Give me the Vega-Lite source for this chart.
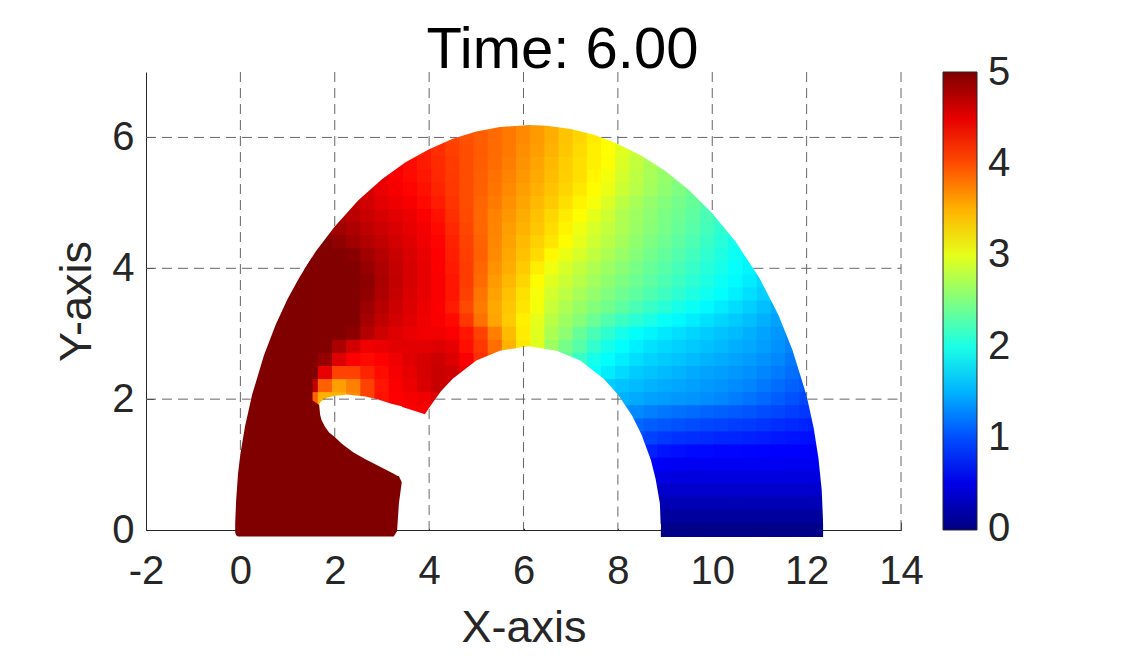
{"$schema":"https://vega.github.io/schema/vega-lite/v6.json","width":755,"height":458,"autosize":"none","padding":{"left":146,"top":72,"right":224,"bottom":126},"background":"white",
"title":{"text":"Time: 6.00","font":"Liberation Sans","fontSize":58,"fontWeight":"normal","color":"#000000","anchor":"middle","dx":39,"offset":-8},
"config":{"view":{"stroke":null},"axis":{"grid":false,"labelFont":"Liberation Sans","titleFont":"Liberation Sans","labelColor":"#262626","titleColor":"#262626","labelFontSize":40,"titleFontSize":45,"titleFontWeight":"normal","domainColor":"#262626","tickColor":"#262626","domainWidth":1,"tickWidth":1,"tickSize":-8,"labelFlush":false}},
"datasets":{
"cells":[
{"x":5.1,"y":6.2,"v":3.92},{"x":5.4,"y":6.2,"v":3.85},{"x":5.7,"y":6.2,"v":3.78},{"x":6.0,"y":6.2,"v":3.7},{"x":6.3,"y":6.2,"v":3.62},{"x":6.6,"y":6.2,"v":3.52},{"x":6.9,"y":6.2,"v":3.42},{"x":7.2,"y":6.2,"v":3.33},
{"x":4.2,"y":6.0,"v":4.12},{"x":4.5,"y":6.0,"v":4.05},{"x":4.8,"y":6.0,"v":3.98},{"x":5.1,"y":6.0,"v":3.92},{"x":5.4,"y":6.0,"v":3.85},{"x":5.7,"y":6.0,"v":3.78},{"x":6.0,"y":6.0,"v":3.7},{"x":6.3,"y":6.0,"v":3.62},{"x":6.6,"y":6.0,"v":3.52},{"x":6.9,"y":6.0,"v":3.42},{"x":7.2,"y":6.0,"v":3.33},{"x":7.5,"y":6.0,"v":3.23},{"x":7.8,"y":6.0,"v":3.13},{"x":8.1,"y":6.0,"v":2.98},
{"x":3.6,"y":5.8,"v":4.33},{"x":3.9,"y":5.8,"v":4.25},{"x":4.2,"y":5.8,"v":4.15},{"x":4.5,"y":5.8,"v":4.07},{"x":4.8,"y":5.8,"v":4.0},{"x":5.1,"y":5.8,"v":3.93},{"x":5.4,"y":5.8,"v":3.85},{"x":5.7,"y":5.8,"v":3.78},{"x":6.0,"y":5.8,"v":3.68},{"x":6.3,"y":5.8,"v":3.6},{"x":6.6,"y":5.8,"v":3.5},{"x":6.9,"y":5.8,"v":3.4},{"x":7.2,"y":5.8,"v":3.3},{"x":7.5,"y":5.8,"v":3.2},{"x":7.8,"y":5.8,"v":3.12},{"x":8.1,"y":5.8,"v":2.98},{"x":8.4,"y":5.8,"v":2.85},{"x":8.7,"y":5.8,"v":2.72},
{"x":3.3,"y":5.6,"v":4.42},{"x":3.6,"y":5.6,"v":4.33},{"x":3.9,"y":5.6,"v":4.25},{"x":4.2,"y":5.6,"v":4.17},{"x":4.5,"y":5.6,"v":4.08},{"x":4.8,"y":5.6,"v":4.0},{"x":5.1,"y":5.6,"v":3.92},{"x":5.4,"y":5.6,"v":3.84},{"x":5.7,"y":5.6,"v":3.76},{"x":6.0,"y":5.6,"v":3.66},{"x":6.3,"y":5.6,"v":3.57},{"x":6.6,"y":5.6,"v":3.47},{"x":6.9,"y":5.6,"v":3.37},{"x":7.2,"y":5.6,"v":3.28},{"x":7.5,"y":5.6,"v":3.2},{"x":7.8,"y":5.6,"v":3.11},{"x":8.1,"y":5.6,"v":2.95},{"x":8.4,"y":5.6,"v":2.83},{"x":8.7,"y":5.6,"v":2.72},{"x":9.0,"y":5.6,"v":2.62},
{"x":3.0,"y":5.4,"v":4.5},{"x":3.3,"y":5.4,"v":4.4},{"x":3.6,"y":5.4,"v":4.33},{"x":3.9,"y":5.4,"v":4.27},{"x":4.2,"y":5.4,"v":4.18},{"x":4.5,"y":5.4,"v":4.09},{"x":4.8,"y":5.4,"v":4.0},{"x":5.1,"y":5.4,"v":3.91},{"x":5.4,"y":5.4,"v":3.82},{"x":5.7,"y":5.4,"v":3.73},{"x":6.0,"y":5.4,"v":3.63},{"x":6.3,"y":5.4,"v":3.54},{"x":6.6,"y":5.4,"v":3.45},{"x":6.9,"y":5.4,"v":3.36},{"x":7.2,"y":5.4,"v":3.28},{"x":7.5,"y":5.4,"v":3.17},{"x":7.8,"y":5.4,"v":3.07},{"x":8.1,"y":5.4,"v":2.91},{"x":8.4,"y":5.4,"v":2.8},{"x":8.7,"y":5.4,"v":2.7},{"x":9.0,"y":5.4,"v":2.6},{"x":9.3,"y":5.4,"v":2.52},
{"x":2.7,"y":5.2,"v":4.58},{"x":3.0,"y":5.2,"v":4.48},{"x":3.3,"y":5.2,"v":4.42},{"x":3.6,"y":5.2,"v":4.36},{"x":3.9,"y":5.2,"v":4.29},{"x":4.2,"y":5.2,"v":4.2},{"x":4.5,"y":5.2,"v":4.1},{"x":4.8,"y":5.2,"v":4.0},{"x":5.1,"y":5.2,"v":3.9},{"x":5.4,"y":5.2,"v":3.8},{"x":5.7,"y":5.2,"v":3.7},{"x":6.0,"y":5.2,"v":3.6},{"x":6.3,"y":5.2,"v":3.51},{"x":6.6,"y":5.2,"v":3.42},{"x":6.9,"y":5.2,"v":3.33},{"x":7.2,"y":5.2,"v":3.24},{"x":7.5,"y":5.2,"v":3.14},{"x":7.8,"y":5.2,"v":3.02},{"x":8.1,"y":5.2,"v":2.87},{"x":8.4,"y":5.2,"v":2.77},{"x":8.7,"y":5.2,"v":2.67},{"x":9.0,"y":5.2,"v":2.58},{"x":9.3,"y":5.2,"v":2.5},{"x":9.6,"y":5.2,"v":2.42},
{"x":2.4,"y":5.0,"v":4.68},{"x":2.7,"y":5.0,"v":4.6},{"x":3.0,"y":5.0,"v":4.52},{"x":3.3,"y":5.0,"v":4.46},{"x":3.6,"y":5.0,"v":4.41},{"x":3.9,"y":5.0,"v":4.33},{"x":4.2,"y":5.0,"v":4.24},{"x":4.5,"y":5.0,"v":4.12},{"x":4.8,"y":5.0,"v":4.0},{"x":5.1,"y":5.0,"v":3.88},{"x":5.4,"y":5.0,"v":3.77},{"x":5.7,"y":5.0,"v":3.67},{"x":6.0,"y":5.0,"v":3.57},{"x":6.3,"y":5.0,"v":3.47},{"x":6.6,"y":5.0,"v":3.38},{"x":6.9,"y":5.0,"v":3.28},{"x":7.2,"y":5.0,"v":3.18},{"x":7.5,"y":5.0,"v":3.08},{"x":7.8,"y":5.0,"v":2.95},{"x":8.1,"y":5.0,"v":2.8},{"x":8.4,"y":5.0,"v":2.7},{"x":8.7,"y":5.0,"v":2.6},{"x":9.0,"y":5.0,"v":2.52},{"x":9.3,"y":5.0,"v":2.45},{"x":9.6,"y":5.0,"v":2.37},{"x":9.9,"y":5.0,"v":2.28},
{"x":2.1,"y":4.8,"v":4.78},{"x":2.4,"y":4.8,"v":4.72},{"x":2.7,"y":4.8,"v":4.65},{"x":3.0,"y":4.8,"v":4.58},{"x":3.3,"y":4.8,"v":4.52},{"x":3.6,"y":4.8,"v":4.47},{"x":3.9,"y":4.8,"v":4.39},{"x":4.2,"y":4.8,"v":4.29},{"x":4.5,"y":4.8,"v":4.15},{"x":4.8,"y":4.8,"v":4.01},{"x":5.1,"y":4.8,"v":3.87},{"x":5.4,"y":4.8,"v":3.74},{"x":5.7,"y":4.8,"v":3.63},{"x":6.0,"y":4.8,"v":3.53},{"x":6.3,"y":4.8,"v":3.43},{"x":6.6,"y":4.8,"v":3.32},{"x":6.9,"y":4.8,"v":3.22},{"x":7.2,"y":4.8,"v":3.13},{"x":7.5,"y":4.8,"v":3.0},{"x":7.8,"y":4.8,"v":2.88},{"x":8.1,"y":4.8,"v":2.74},{"x":8.4,"y":4.8,"v":2.65},{"x":8.7,"y":4.8,"v":2.56},{"x":9.0,"y":4.8,"v":2.48},{"x":9.3,"y":4.8,"v":2.41},{"x":9.6,"y":4.8,"v":2.33},{"x":9.9,"y":4.8,"v":2.24},{"x":10.2,"y":4.8,"v":2.14},
{"x":1.8,"y":4.6,"v":4.9},{"x":2.1,"y":4.6,"v":4.85},{"x":2.4,"y":4.6,"v":4.78},{"x":2.7,"y":4.6,"v":4.7},{"x":3.0,"y":4.6,"v":4.63},{"x":3.3,"y":4.6,"v":4.57},{"x":3.6,"y":4.6,"v":4.5},{"x":3.9,"y":4.6,"v":4.43},{"x":4.2,"y":4.6,"v":4.33},{"x":4.5,"y":4.6,"v":4.18},{"x":4.8,"y":4.6,"v":4.03},{"x":5.1,"y":4.6,"v":3.87},{"x":5.4,"y":4.6,"v":3.73},{"x":5.7,"y":4.6,"v":3.6},{"x":6.0,"y":4.6,"v":3.5},{"x":6.3,"y":4.6,"v":3.4},{"x":6.6,"y":4.6,"v":3.29},{"x":6.9,"y":4.6,"v":3.18},{"x":7.2,"y":4.6,"v":3.05},{"x":7.5,"y":4.6,"v":2.93},{"x":7.8,"y":4.6,"v":2.83},{"x":8.1,"y":4.6,"v":2.73},{"x":8.4,"y":4.6,"v":2.63},{"x":8.7,"y":4.6,"v":2.54},{"x":9.0,"y":4.6,"v":2.46},{"x":9.3,"y":4.6,"v":2.38},{"x":9.6,"y":4.6,"v":2.3},{"x":9.9,"y":4.6,"v":2.21},{"x":10.2,"y":4.6,"v":2.1},{"x":10.5,"y":4.6,"v":2.0},
{"x":1.5,"y":4.4,"v":5},{"x":1.8,"y":4.4,"v":5},{"x":2.1,"y":4.4,"v":4.93},{"x":2.4,"y":4.4,"v":4.85},{"x":2.7,"y":4.4,"v":4.76},{"x":3.0,"y":4.4,"v":4.68},{"x":3.3,"y":4.4,"v":4.6},{"x":3.6,"y":4.4,"v":4.53},{"x":3.9,"y":4.4,"v":4.45},{"x":4.2,"y":4.4,"v":4.36},{"x":4.5,"y":4.4,"v":4.21},{"x":4.8,"y":4.4,"v":4.05},{"x":5.1,"y":4.4,"v":3.89},{"x":5.4,"y":4.4,"v":3.72},{"x":5.7,"y":4.4,"v":3.58},{"x":6.0,"y":4.4,"v":3.46},{"x":6.3,"y":4.4,"v":3.35},{"x":6.6,"y":4.4,"v":3.25},{"x":6.9,"y":4.4,"v":3.14},{"x":7.2,"y":4.4,"v":3.0},{"x":7.5,"y":4.4,"v":2.88},{"x":7.8,"y":4.4,"v":2.78},{"x":8.1,"y":4.4,"v":2.68},{"x":8.4,"y":4.4,"v":2.58},{"x":8.7,"y":4.4,"v":2.49},{"x":9.0,"y":4.4,"v":2.41},{"x":9.3,"y":4.4,"v":2.33},{"x":9.6,"y":4.4,"v":2.25},{"x":9.9,"y":4.4,"v":2.16},{"x":10.2,"y":4.4,"v":2.06},{"x":10.5,"y":4.4,"v":1.96},
{"x":1.5,"y":4.2,"v":5},{"x":1.8,"y":4.2,"v":5},{"x":2.1,"y":4.2,"v":5},{"x":2.4,"y":4.2,"v":4.97},{"x":2.7,"y":4.2,"v":4.85},{"x":3.0,"y":4.2,"v":4.75},{"x":3.3,"y":4.2,"v":4.65},{"x":3.6,"y":4.2,"v":4.57},{"x":3.9,"y":4.2,"v":4.48},{"x":4.2,"y":4.2,"v":4.38},{"x":4.5,"y":4.2,"v":4.23},{"x":4.8,"y":4.2,"v":4.07},{"x":5.1,"y":4.2,"v":3.9},{"x":5.4,"y":4.2,"v":3.7},{"x":5.7,"y":4.2,"v":3.55},{"x":6.0,"y":4.2,"v":3.43},{"x":6.3,"y":4.2,"v":3.3},{"x":6.6,"y":4.2,"v":3.16},{"x":6.9,"y":4.2,"v":3.03},{"x":7.2,"y":4.2,"v":2.93},{"x":7.5,"y":4.2,"v":2.82},{"x":7.8,"y":4.2,"v":2.72},{"x":8.1,"y":4.2,"v":2.62},{"x":8.4,"y":4.2,"v":2.53},{"x":8.7,"y":4.2,"v":2.44},{"x":9.0,"y":4.2,"v":2.36},{"x":9.3,"y":4.2,"v":2.28},{"x":9.6,"y":4.2,"v":2.2},{"x":9.9,"y":4.2,"v":2.11},{"x":10.2,"y":4.2,"v":2.02},{"x":10.5,"y":4.2,"v":1.93},{"x":10.8,"y":4.2,"v":1.84},
{"x":1.5,"y":4.0,"v":5},{"x":1.8,"y":4.0,"v":5},{"x":2.1,"y":4.0,"v":5},{"x":2.4,"y":4.0,"v":5},{"x":2.7,"y":4.0,"v":4.9},{"x":3.0,"y":4.0,"v":4.78},{"x":3.3,"y":4.0,"v":4.67},{"x":3.6,"y":4.0,"v":4.58},{"x":3.9,"y":4.0,"v":4.5},{"x":4.2,"y":4.0,"v":4.39},{"x":4.5,"y":4.0,"v":4.25},{"x":4.8,"y":4.0,"v":4.08},{"x":5.1,"y":4.0,"v":3.88},{"x":5.4,"y":4.0,"v":3.66},{"x":5.7,"y":4.0,"v":3.52},{"x":6.0,"y":4.0,"v":3.38},{"x":6.3,"y":4.0,"v":3.21},{"x":6.6,"y":4.0,"v":3.05},{"x":6.9,"y":4.0,"v":2.93},{"x":7.2,"y":4.0,"v":2.83},{"x":7.5,"y":4.0,"v":2.73},{"x":7.8,"y":4.0,"v":2.64},{"x":8.1,"y":4.0,"v":2.55},{"x":8.4,"y":4.0,"v":2.46},{"x":8.7,"y":4.0,"v":2.38},{"x":9.0,"y":4.0,"v":2.3},{"x":9.3,"y":4.0,"v":2.22},{"x":9.6,"y":4.0,"v":2.14},{"x":9.9,"y":4.0,"v":2.06},{"x":10.2,"y":4.0,"v":1.98},{"x":10.5,"y":4.0,"v":1.9},{"x":10.8,"y":4.0,"v":1.83},
{"x":1.5,"y":3.8,"v":5},{"x":1.8,"y":3.8,"v":5},{"x":2.1,"y":3.8,"v":5},{"x":2.4,"y":3.8,"v":5},{"x":2.7,"y":3.8,"v":4.95},{"x":3.0,"y":3.8,"v":4.8},{"x":3.3,"y":3.8,"v":4.68},{"x":3.6,"y":3.8,"v":4.58},{"x":3.9,"y":3.8,"v":4.5},{"x":4.2,"y":3.8,"v":4.4},{"x":4.5,"y":3.8,"v":4.27},{"x":4.8,"y":3.8,"v":4.08},{"x":5.1,"y":3.8,"v":3.85},{"x":5.4,"y":3.8,"v":3.62},{"x":5.7,"y":3.8,"v":3.48},{"x":6.0,"y":3.8,"v":3.33},{"x":6.3,"y":3.8,"v":3.14},{"x":6.6,"y":3.8,"v":2.98},{"x":6.9,"y":3.8,"v":2.87},{"x":7.2,"y":3.8,"v":2.77},{"x":7.5,"y":3.8,"v":2.67},{"x":7.8,"y":3.8,"v":2.58},{"x":8.1,"y":3.8,"v":2.49},{"x":8.4,"y":3.8,"v":2.41},{"x":8.7,"y":3.8,"v":2.33},{"x":9.0,"y":3.8,"v":2.25},{"x":9.3,"y":3.8,"v":2.17},{"x":9.6,"y":3.8,"v":2.09},{"x":9.9,"y":3.8,"v":2.01},{"x":10.2,"y":3.8,"v":1.93},{"x":10.5,"y":3.8,"v":1.86},{"x":10.8,"y":3.8,"v":1.78},{"x":11.1,"y":3.8,"v":1.7},
{"x":1.5,"y":3.6,"v":5},{"x":1.8,"y":3.6,"v":5},{"x":2.1,"y":3.6,"v":5},{"x":2.4,"y":3.6,"v":5},{"x":2.7,"y":3.6,"v":4.92},{"x":3.0,"y":3.6,"v":4.78},{"x":3.3,"y":3.6,"v":4.66},{"x":3.6,"y":3.6,"v":4.57},{"x":3.9,"y":3.6,"v":4.49},{"x":4.2,"y":3.6,"v":4.4},{"x":4.5,"y":3.6,"v":4.27},{"x":4.8,"y":3.6,"v":4.06},{"x":5.1,"y":3.6,"v":3.8},{"x":5.4,"y":3.6,"v":3.58},{"x":5.7,"y":3.6,"v":3.43},{"x":6.0,"y":3.6,"v":3.27},{"x":6.3,"y":3.6,"v":3.08},{"x":6.6,"y":3.6,"v":2.91},{"x":6.9,"y":3.6,"v":2.8},{"x":7.2,"y":3.6,"v":2.7},{"x":7.5,"y":3.6,"v":2.6},{"x":7.8,"y":3.6,"v":2.5},{"x":8.1,"y":3.6,"v":2.42},{"x":8.4,"y":3.6,"v":2.34},{"x":8.7,"y":3.6,"v":2.26},{"x":9.0,"y":3.6,"v":2.18},{"x":9.3,"y":3.6,"v":2.1},{"x":9.6,"y":3.6,"v":2.02},{"x":9.9,"y":3.6,"v":1.95},{"x":10.2,"y":3.6,"v":1.88},{"x":10.5,"y":3.6,"v":1.8},{"x":10.8,"y":3.6,"v":1.72},{"x":11.1,"y":3.6,"v":1.64},
{"x":1.5,"y":3.4,"v":5},{"x":1.8,"y":3.4,"v":5},{"x":2.1,"y":3.4,"v":5},{"x":2.4,"y":3.4,"v":5},{"x":2.7,"y":3.4,"v":4.87},{"x":3.0,"y":3.4,"v":4.74},{"x":3.3,"y":3.4,"v":4.63},{"x":3.6,"y":3.4,"v":4.55},{"x":3.9,"y":3.4,"v":4.47},{"x":4.2,"y":3.4,"v":4.39},{"x":4.5,"y":3.4,"v":4.25},{"x":4.8,"y":3.4,"v":4.02},{"x":5.1,"y":3.4,"v":3.77},{"x":5.4,"y":3.4,"v":3.55},{"x":5.7,"y":3.4,"v":3.4},{"x":6.0,"y":3.4,"v":3.25},{"x":6.3,"y":3.4,"v":3.07},{"x":6.6,"y":3.4,"v":2.85},{"x":6.9,"y":3.4,"v":2.73},{"x":7.2,"y":3.4,"v":2.62},{"x":7.5,"y":3.4,"v":2.52},{"x":7.8,"y":3.4,"v":2.43},{"x":8.1,"y":3.4,"v":2.33},{"x":8.4,"y":3.4,"v":2.24},{"x":8.7,"y":3.4,"v":2.15},{"x":9.0,"y":3.4,"v":2.07},{"x":9.3,"y":3.4,"v":1.99},{"x":9.6,"y":3.4,"v":1.92},{"x":9.9,"y":3.4,"v":1.85},{"x":10.2,"y":3.4,"v":1.78},{"x":10.5,"y":3.4,"v":1.71},{"x":10.8,"y":3.4,"v":1.64},{"x":11.1,"y":3.4,"v":1.56},{"x":11.4,"y":3.4,"v":1.48},
{"x":1.5,"y":3.2,"v":5},{"x":1.8,"y":3.2,"v":5},{"x":2.1,"y":3.2,"v":5},{"x":2.4,"y":3.2,"v":5},{"x":2.7,"y":3.2,"v":4.82},{"x":3.0,"y":3.2,"v":4.7},{"x":3.3,"y":3.2,"v":4.6},{"x":3.6,"y":3.2,"v":4.52},{"x":3.9,"y":3.2,"v":4.45},{"x":4.2,"y":3.2,"v":4.4},{"x":4.5,"y":3.2,"v":4.33},{"x":4.8,"y":3.2,"v":4.1},{"x":5.1,"y":3.2,"v":3.82},{"x":5.4,"y":3.2,"v":3.57},{"x":5.7,"y":3.2,"v":3.38},{"x":6.0,"y":3.2,"v":3.2},{"x":6.3,"y":3.2,"v":3.0},{"x":6.6,"y":3.2,"v":2.78},{"x":6.9,"y":3.2,"v":2.65},{"x":7.2,"y":3.2,"v":2.53},{"x":7.5,"y":3.2,"v":2.4},{"x":7.8,"y":3.2,"v":2.27},{"x":8.1,"y":3.2,"v":2.17},{"x":8.4,"y":3.2,"v":2.08},{"x":8.7,"y":3.2,"v":2.0},{"x":9.0,"y":3.2,"v":1.91},{"x":9.3,"y":3.2,"v":1.85},{"x":9.6,"y":3.2,"v":1.79},{"x":9.9,"y":3.2,"v":1.73},{"x":10.2,"y":3.2,"v":1.68},{"x":10.5,"y":3.2,"v":1.62},{"x":10.8,"y":3.2,"v":1.56},{"x":11.1,"y":3.2,"v":1.49},{"x":11.4,"y":3.2,"v":1.42},
{"x":1.5,"y":3.0,"v":5},{"x":1.8,"y":3.0,"v":5},{"x":2.1,"y":3.0,"v":5},{"x":2.4,"y":3.0,"v":4.95},{"x":2.7,"y":3.0,"v":4.75},{"x":3.0,"y":3.0,"v":4.62},{"x":3.3,"y":3.0,"v":4.54},{"x":3.6,"y":3.0,"v":4.48},{"x":3.9,"y":3.0,"v":4.44},{"x":4.2,"y":3.0,"v":4.44},{"x":4.5,"y":3.0,"v":4.4},{"x":4.8,"y":3.0,"v":4.27},{"x":5.1,"y":3.0,"v":4.05},{"x":5.4,"y":3.0,"v":3.75},{"x":5.7,"y":3.0,"v":3.46},{"x":6.0,"y":3.0,"v":3.22},{"x":6.3,"y":3.0,"v":2.98},{"x":6.6,"y":3.0,"v":2.72},{"x":6.9,"y":3.0,"v":2.57},{"x":7.2,"y":3.0,"v":2.38},{"x":7.5,"y":3.0,"v":2.24},{"x":7.8,"y":3.0,"v":2.1},{"x":8.1,"y":3.0,"v":1.98},{"x":8.4,"y":3.0,"v":1.89},{"x":8.7,"y":3.0,"v":1.83},{"x":9.0,"y":3.0,"v":1.77},{"x":9.3,"y":3.0,"v":1.72},{"x":9.6,"y":3.0,"v":1.67},{"x":9.9,"y":3.0,"v":1.63},{"x":10.2,"y":3.0,"v":1.58},{"x":10.5,"y":3.0,"v":1.54},{"x":10.8,"y":3.0,"v":1.49},{"x":11.1,"y":3.0,"v":1.43},{"x":11.4,"y":3.0,"v":1.37},{"x":11.7,"y":3.0,"v":1.3},
{"x":1.5,"y":2.8,"v":5},{"x":1.8,"y":2.8,"v":5},{"x":2.1,"y":2.8,"v":4.8},{"x":2.4,"y":2.8,"v":4.6},{"x":2.7,"y":2.8,"v":4.45},{"x":3.0,"y":2.8,"v":4.48},{"x":3.3,"y":2.8,"v":4.52},{"x":3.6,"y":2.8,"v":4.52},{"x":3.9,"y":2.8,"v":4.52},{"x":4.2,"y":2.8,"v":4.55},{"x":4.5,"y":2.8,"v":4.5},{"x":4.8,"y":2.8,"v":4.3},{"x":5.1,"y":2.8,"v":4.1},{"x":5.4,"y":2.8,"v":3.83},{"x":5.7,"y":2.8,"v":3.5},{"x":6.0,"y":2.8,"v":3.24},{"x":6.3,"y":2.8,"v":2.98},{"x":6.6,"y":2.8,"v":2.65},{"x":6.9,"y":2.8,"v":2.45},{"x":7.2,"y":2.8,"v":2.3},{"x":7.5,"y":2.8,"v":2.12},{"x":7.8,"y":2.8,"v":1.98},{"x":8.1,"y":2.8,"v":1.88},{"x":8.4,"y":2.8,"v":1.8},{"x":8.7,"y":2.8,"v":1.74},{"x":9.0,"y":2.8,"v":1.69},{"x":9.3,"y":2.8,"v":1.65},{"x":9.6,"y":2.8,"v":1.61},{"x":9.9,"y":2.8,"v":1.57},{"x":10.2,"y":2.8,"v":1.53},{"x":10.5,"y":2.8,"v":1.49},{"x":10.8,"y":2.8,"v":1.45},{"x":11.1,"y":2.8,"v":1.4},{"x":11.4,"y":2.8,"v":1.34},{"x":11.7,"y":2.8,"v":1.27},
{"x":1.5,"y":2.6,"v":5},{"x":1.8,"y":2.6,"v":4.9},{"x":2.1,"y":2.6,"v":4.55},{"x":2.4,"y":2.6,"v":4.38},{"x":2.7,"y":2.6,"v":4.33},{"x":3.0,"y":2.6,"v":4.38},{"x":3.3,"y":2.6,"v":4.45},{"x":3.6,"y":2.6,"v":4.53},{"x":3.9,"y":2.6,"v":4.58},{"x":4.2,"y":2.6,"v":4.63},{"x":4.5,"y":2.6,"v":4.55},{"x":4.8,"y":2.6,"v":4.4},{"x":5.1,"y":2.6,"v":4.15},{"x":5.4,"y":2.6,"v":3.9},{"x":6.9,"y":2.6,"v":2.35},{"x":7.2,"y":2.6,"v":2.15},{"x":7.5,"y":2.6,"v":1.98},{"x":7.8,"y":2.6,"v":1.88},{"x":8.1,"y":2.6,"v":1.79},{"x":8.4,"y":2.6,"v":1.72},{"x":8.7,"y":2.6,"v":1.66},{"x":9.0,"y":2.6,"v":1.62},{"x":9.3,"y":2.6,"v":1.58},{"x":9.6,"y":2.6,"v":1.54},{"x":9.9,"y":2.6,"v":1.5},{"x":10.2,"y":2.6,"v":1.47},{"x":10.5,"y":2.6,"v":1.43},{"x":10.8,"y":2.6,"v":1.39},{"x":11.1,"y":2.6,"v":1.34},{"x":11.4,"y":2.6,"v":1.29},{"x":11.7,"y":2.6,"v":1.22},
{"x":1.5,"y":2.4,"v":5},{"x":1.8,"y":2.4,"v":4.5},{"x":2.1,"y":2.4,"v":4.05},{"x":2.4,"y":2.4,"v":4.05},{"x":2.7,"y":2.4,"v":4.2},{"x":3.0,"y":2.4,"v":4.32},{"x":3.3,"y":2.4,"v":4.42},{"x":3.6,"y":2.4,"v":4.5},{"x":3.9,"y":2.4,"v":4.58},{"x":4.2,"y":2.4,"v":4.65},{"x":4.5,"y":2.4,"v":4.62},{"x":4.8,"y":2.4,"v":4.45},{"x":7.5,"y":2.4,"v":1.9},{"x":7.8,"y":2.4,"v":1.78},{"x":8.1,"y":2.4,"v":1.7},{"x":8.4,"y":2.4,"v":1.63},{"x":8.7,"y":2.4,"v":1.58},{"x":9.0,"y":2.4,"v":1.54},{"x":9.3,"y":2.4,"v":1.5},{"x":9.6,"y":2.4,"v":1.46},{"x":9.9,"y":2.4,"v":1.43},{"x":10.2,"y":2.4,"v":1.4},{"x":10.5,"y":2.4,"v":1.37},{"x":10.8,"y":2.4,"v":1.33},{"x":11.1,"y":2.4,"v":1.28},{"x":11.4,"y":2.4,"v":1.23},{"x":11.7,"y":2.4,"v":1.17},{"x":12.0,"y":2.4,"v":1.1},
{"x":1.5,"y":2.2,"v":4.7},{"x":1.8,"y":2.2,"v":3.9},{"x":2.1,"y":2.2,"v":3.6},{"x":2.4,"y":2.2,"v":3.75},{"x":2.7,"y":2.2,"v":4.05},{"x":3.0,"y":2.2,"v":4.27},{"x":3.3,"y":2.2,"v":4.4},{"x":3.6,"y":2.2,"v":4.47},{"x":3.9,"y":2.2,"v":4.57},{"x":4.2,"y":2.2,"v":4.65},{"x":4.5,"y":2.2,"v":4.62},{"x":7.8,"y":2.2,"v":1.63},{"x":8.1,"y":2.2,"v":1.58},{"x":8.4,"y":2.2,"v":1.54},{"x":8.7,"y":2.2,"v":1.5},{"x":9.0,"y":2.2,"v":1.47},{"x":9.3,"y":2.2,"v":1.44},{"x":9.6,"y":2.2,"v":1.41},{"x":9.9,"y":2.2,"v":1.38},{"x":10.2,"y":2.2,"v":1.35},{"x":10.5,"y":2.2,"v":1.31},{"x":10.8,"y":2.2,"v":1.27},{"x":11.1,"y":2.2,"v":1.22},{"x":11.4,"y":2.2,"v":1.16},{"x":11.7,"y":2.2,"v":1.1},{"x":12.0,"y":2.2,"v":1.05},
{"x":1.5,"y":2.0,"v":3.9},{"x":1.8,"y":2.0,"v":3.5},{"x":2.1,"y":2.0,"v":3.5},{"x":2.4,"y":2.0,"v":3.7},{"x":2.7,"y":2.0,"v":4.05},{"x":3.0,"y":2.0,"v":4.28},{"x":3.3,"y":2.0,"v":4.38},{"x":3.6,"y":2.0,"v":4.42},{"x":3.9,"y":2.0,"v":4.45},{"x":4.2,"y":2.0,"v":4.55},{"x":8.1,"y":2.0,"v":1.5},{"x":8.4,"y":2.0,"v":1.46},{"x":8.7,"y":2.0,"v":1.42},{"x":9.0,"y":2.0,"v":1.39},{"x":9.3,"y":2.0,"v":1.37},{"x":9.6,"y":2.0,"v":1.35},{"x":9.9,"y":2.0,"v":1.32},{"x":10.2,"y":2.0,"v":1.28},{"x":10.5,"y":2.0,"v":1.24},{"x":10.8,"y":2.0,"v":1.19},{"x":11.1,"y":2.0,"v":1.14},{"x":11.4,"y":2.0,"v":1.08},{"x":11.7,"y":2.0,"v":1.02},{"x":12.0,"y":2.0,"v":0.97},
{"x":3.3,"y":1.8,"v":4.38},{"x":3.6,"y":1.8,"v":4.4},{"x":3.9,"y":1.8,"v":4.42},{"x":8.1,"y":1.8,"v":1.35},{"x":8.4,"y":1.8,"v":1.3},{"x":8.7,"y":1.8,"v":1.25},{"x":9.0,"y":1.8,"v":1.21},{"x":9.3,"y":1.8,"v":1.18},{"x":9.6,"y":1.8,"v":1.15},{"x":9.9,"y":1.8,"v":1.12},{"x":10.2,"y":1.8,"v":1.09},{"x":10.5,"y":1.8,"v":1.07},{"x":10.8,"y":1.8,"v":1.04},{"x":11.1,"y":1.8,"v":1.0},{"x":11.4,"y":1.8,"v":0.97},{"x":11.7,"y":1.8,"v":0.93},{"x":12.0,"y":1.8,"v":0.89},
{"x":8.4,"y":1.6,"v":1.13},{"x":8.7,"y":1.6,"v":1.08},{"x":9.0,"y":1.6,"v":1.05},{"x":9.3,"y":1.6,"v":1.02},{"x":9.6,"y":1.6,"v":0.99},{"x":9.9,"y":1.6,"v":0.97},{"x":10.2,"y":1.6,"v":0.95},{"x":10.5,"y":1.6,"v":0.93},{"x":10.8,"y":1.6,"v":0.91},{"x":11.1,"y":1.6,"v":0.88},{"x":11.4,"y":1.6,"v":0.85},{"x":11.7,"y":1.6,"v":0.82},{"x":12.0,"y":1.6,"v":0.8},{"x":12.19,"y":1.6,"v":0.78},
{"x":8.4,"y":1.4,"v":1.0},{"x":8.7,"y":1.4,"v":0.94},{"x":9.0,"y":1.4,"v":0.9},{"x":9.3,"y":1.4,"v":0.87},{"x":9.6,"y":1.4,"v":0.85},{"x":9.9,"y":1.4,"v":0.83},{"x":10.2,"y":1.4,"v":0.81},{"x":10.5,"y":1.4,"v":0.8},{"x":10.8,"y":1.4,"v":0.78},{"x":11.1,"y":1.4,"v":0.76},{"x":11.4,"y":1.4,"v":0.74},{"x":11.7,"y":1.4,"v":0.72},{"x":12.0,"y":1.4,"v":0.7},{"x":12.19,"y":1.4,"v":0.69},
{"x":8.7,"y":1.2,"v":0.78},{"x":9.0,"y":1.2,"v":0.72},{"x":9.3,"y":1.2,"v":0.69},{"x":9.6,"y":1.2,"v":0.67},{"x":9.9,"y":1.2,"v":0.66},{"x":10.2,"y":1.2,"v":0.65},{"x":10.5,"y":1.2,"v":0.65},{"x":10.8,"y":1.2,"v":0.64},{"x":11.1,"y":1.2,"v":0.63},{"x":11.4,"y":1.2,"v":0.62},{"x":11.7,"y":1.2,"v":0.62},{"x":12.0,"y":1.2,"v":0.61},{"x":12.19,"y":1.2,"v":0.6},
{"x":8.7,"y":1.0,"v":0.62},{"x":9.0,"y":1.0,"v":0.58},{"x":9.3,"y":1.0,"v":0.57},{"x":9.6,"y":1.0,"v":0.56},{"x":9.9,"y":1.0,"v":0.56},{"x":10.2,"y":1.0,"v":0.56},{"x":10.5,"y":1.0,"v":0.56},{"x":10.8,"y":1.0,"v":0.56},{"x":11.1,"y":1.0,"v":0.56},{"x":11.4,"y":1.0,"v":0.56},{"x":11.7,"y":1.0,"v":0.55},{"x":12.0,"y":1.0,"v":0.55},{"x":12.19,"y":1.0,"v":0.55},
{"x":8.7,"y":0.8,"v":0.48},{"x":9.0,"y":0.8,"v":0.47},{"x":9.3,"y":0.8,"v":0.46},{"x":9.6,"y":0.8,"v":0.46},{"x":9.9,"y":0.8,"v":0.46},{"x":10.2,"y":0.8,"v":0.46},{"x":10.5,"y":0.8,"v":0.46},{"x":10.8,"y":0.8,"v":0.46},{"x":11.1,"y":0.8,"v":0.46},{"x":11.4,"y":0.8,"v":0.46},{"x":11.7,"y":0.8,"v":0.46},{"x":12.0,"y":0.8,"v":0.46},{"x":12.19,"y":0.8,"v":0.46},
{"x":8.7,"y":0.6,"v":0.36},{"x":9.0,"y":0.6,"v":0.36},{"x":9.3,"y":0.6,"v":0.36},{"x":9.6,"y":0.6,"v":0.36},{"x":9.9,"y":0.6,"v":0.36},{"x":10.2,"y":0.6,"v":0.36},{"x":10.5,"y":0.6,"v":0.36},{"x":10.8,"y":0.6,"v":0.36},{"x":11.1,"y":0.6,"v":0.36},{"x":11.4,"y":0.6,"v":0.36},{"x":11.7,"y":0.6,"v":0.36},{"x":12.0,"y":0.6,"v":0.36},{"x":12.19,"y":0.6,"v":0.36},
{"x":8.7,"y":0.4,"v":0.25},{"x":9.0,"y":0.4,"v":0.25},{"x":9.3,"y":0.4,"v":0.25},{"x":9.6,"y":0.4,"v":0.25},{"x":9.9,"y":0.4,"v":0.25},{"x":10.2,"y":0.4,"v":0.25},{"x":10.5,"y":0.4,"v":0.25},{"x":10.8,"y":0.4,"v":0.25},{"x":11.1,"y":0.4,"v":0.25},{"x":11.4,"y":0.4,"v":0.25},{"x":11.7,"y":0.4,"v":0.25},{"x":12.0,"y":0.4,"v":0.25},{"x":12.19,"y":0.4,"v":0.25},
{"x":9.0,"y":0.2,"v":0.13},{"x":9.3,"y":0.2,"v":0.13},{"x":9.6,"y":0.2,"v":0.13},{"x":9.9,"y":0.2,"v":0.13},{"x":10.2,"y":0.2,"v":0.13},{"x":10.5,"y":0.2,"v":0.13},{"x":10.8,"y":0.2,"v":0.13},{"x":11.1,"y":0.2,"v":0.13},{"x":11.4,"y":0.2,"v":0.13},{"x":11.7,"y":0.2,"v":0.13},{"x":12.0,"y":0.2,"v":0.13},{"x":12.19,"y":0.2,"v":0.13},
{"x":9.07,"y":0,"v":0.03},{"x":9.3,"y":0,"v":0.03},{"x":9.6,"y":0,"v":0.03},{"x":9.9,"y":0,"v":0.03},{"x":10.2,"y":0,"v":0.03},{"x":10.5,"y":0,"v":0.03},{"x":10.8,"y":0,"v":0.03},{"x":11.1,"y":0,"v":0.03},{"x":11.4,"y":0,"v":0.03},{"x":11.7,"y":0,"v":0.03},{"x":12.0,"y":0,"v":0.03},{"x":12.19,"y":0,"v":0.03}
],
"outside":[{"x":1.3,"y":3.92,"y2":7},{"x":1.6,"y":4.26,"y2":7},{"x":2,"y":4.64,"y2":7},{"x":2.5,"y":5.04,"y2":7},{"x":3,"y":5.36,"y2":7},{"x":3.5,"y":5.62,"y2":7},{"x":4,"y":5.82,"y2":7},{"x":4.5,"y":5.98,"y2":7},{"x":5,"y":6.09,"y2":7},{"x":5.5,"y":6.16,"y2":7},{"x":6.12,"y":6.19,"y2":7},{"x":6.5,"y":6.18,"y2":7},{"x":7,"y":6.13,"y2":7},{"x":7.5,"y":6.04,"y2":7},{"x":8,"y":5.9,"y2":7},{"x":8.5,"y":5.72,"y2":7},{"x":9,"y":5.49,"y2":7},{"x":9.5,"y":5.2,"y2":7},{"x":10,"y":4.84,"y2":7},{"x":10.5,"y":4.4,"y2":7},{"x":11,"y":3.85,"y2":7},{"x":11.4,"y":3.29,"y2":7},{"x":11.7,"y":2.75,"y2":7},{"x":12,"y":2.05,"y2":7},{"x":12.15,"y":1.56,"y2":7},{"x":12.25,"y":1.1,"y2":7},{"x":12.32,"y":0.61,"y2":7},{"x":12.35,"y":0.1,"y2":7},{"x":12.5,"y":0.02,"y2":7}],
"gap":[{"x":1.66,"y":1.91,"y2":1.91},{"x":1.69,"y":1.95,"y2":1.76},{"x":1.72,"y":1.97,"y2":1.68},{"x":1.79,"y":2.0,"y2":1.58},{"x":1.83,"y":2.02,"y2":1.54},{"x":1.88,"y":2.03,"y2":1.49},{"x":2,"y":2.05,"y2":1.42},{"x":2.15,"y":2.06,"y2":1.32},{"x":2.26,"y":2.07,"y2":1.27},{"x":2.39,"y":2.06,"y2":1.19},{"x":2.65,"y":2.04,"y2":1.08},{"x":2.9,"y":2.0,"y2":0.99},{"x":3.2,"y":1.93,"y2":0.87},{"x":3.42,"y":1.89,"y2":0.73},{"x":3.43,"y":1.88,"y2":0.02},{"x":3.7,"y":1.82,"y2":0.02},{"x":3.91,"y":1.77,"y2":0.02},{"x":4,"y":1.87,"y2":0.02},{"x":4.25,"y":2.12,"y2":0.02},{"x":4.5,"y":2.31,"y2":0.02},{"x":5,"y":2.59,"y2":0.02},{"x":5.5,"y":2.74,"y2":0.02},{"x":6.1,"y":2.81,"y2":0.02},{"x":6.7,"y":2.74,"y2":0.02},{"x":7.2,"y":2.59,"y2":0.02},{"x":7.7,"y":2.31,"y2":0.02},{"x":8,"y":2.07,"y2":0.02},{"x":8.3,"y":1.75,"y2":0.02},{"x":8.5,"y":1.46,"y2":0.02},{"x":8.7,"y":1.07,"y2":0.02},{"x":8.8,"y":0.78,"y2":0.02},{"x":8.89,"y":0.41,"y2":0.02},{"x":8.91,"y":0.02,"y2":0.02}],
"solid":[{"x":-0.11,"y":0.1,"y2":-0.04},{"x":-0.09,"y":0.45,"y2":-0.08},{"x":-0.05,"y":0.86,"y2":-0.1},{"x":0,"y":1.16,"y2":-0.1},{"x":0.1,"y":1.59,"y2":-0.1},{"x":0.25,"y":2.07,"y2":-0.1},{"x":0.5,"y":2.67,"y2":-0.1},{"x":0.75,"y":3.14,"y2":-0.1},{"x":1,"y":3.53,"y2":-0.1},{"x":1.25,"y":3.86,"y2":-0.1},{"x":1.52,"y":4.17,"y2":-0.1},{"x":1.53,"y":1.98,"y2":-0.1},{"x":1.67,"y":1.91,"y2":-0.1},{"x":1.69,"y":1.76,"y2":-0.1},{"x":1.72,"y":1.68,"y2":-0.1},{"x":1.79,"y":1.58,"y2":-0.1},{"x":1.88,"y":1.49,"y2":-0.1},{"x":2,"y":1.42,"y2":-0.1},{"x":2.15,"y":1.32,"y2":-0.1},{"x":2.39,"y":1.19,"y2":-0.1},{"x":2.65,"y":1.08,"y2":-0.1},{"x":2.9,"y":0.99,"y2":-0.1},{"x":3.25,"y":0.86,"y2":-0.1},{"x":3.32,"y":0.83,"y2":-0.02},{"x":3.36,"y":0.82,"y2":0.41},{"x":3.42,"y":0.73,"y2":0.73}],
"grid":[{"x":0,"x2":0,"y":7,"y2":1.16},{"x":2,"x2":2,"y":7,"y2":4.64},{"x":2,"x2":2,"y":2.05,"y2":1.42},{"x":4,"x2":4,"y":7,"y2":5.82},{"x":4,"x2":4,"y":1.85,"y2":0},{"x":6,"x2":6,"y":7,"y2":6.19},{"x":6,"x2":6,"y":2.81,"y2":0},{"x":8,"x2":8,"y":7,"y2":5.9},{"x":8,"x2":8,"y":2.07,"y2":0},{"x":10,"x2":10,"y":7,"y2":4.84},{"x":12,"x2":12,"y":7,"y2":2.05},{"x":14,"x2":14,"y":7,"y2":0},
{"x":-2,"x2":4.59,"y":6,"y2":6},{"x":7.65,"x2":14,"y":6,"y2":6},{"x":-2,"x2":1.37,"y":4,"y2":4},{"x":10.87,"x2":14,"y":4,"y2":4},{"x":-2,"x2":0.22,"y":2,"y2":2},{"x":1.75,"x2":2.9,"y":2,"y2":2},{"x":4.13,"x2":8.07,"y":2,"y2":2},{"x":12.02,"x2":14,"y":2,"y2":2}],
"barticks":[{"x":15.5,"x2":15.61,"y":1.4},{"x":15.5,"x2":15.61,"y":2.8},{"x":15.5,"x2":15.61,"y":4.2},{"x":15.5,"x2":15.61,"y":5.6}]
},
"layer":[
{"data":{"name":"cells"},"mark":{"type":"rect","width":15,"height":14,"clip":false},
"encoding":{"x":{"field":"x","type":"quantitative","scale":{"domain":[-2,14],"nice":false,"zero":false},"axis":{"values":[-2,0,2,4,6,8,10,12,14],"title":"X-axis","labelPadding":29,"titlePadding":14,"labelExpr":"''+datum.value"}},
"y":{"field":"y","type":"quantitative","scale":{"domain":[0,7],"nice":false,"zero":false},"axis":{"values":[0,2,4,6],"title":"Y-axis","labelPadding":20,"titlePadding":12,"labelExpr":"''+datum.value"}},
"color":{"field":"v","type":"quantitative","scale":{"domain":[-0.01,0.625,1.875,3.125,4.375,5.01],"range":["#000080","#0000ff","#00ffff","#ffff00","#ff0000","#800000"],"clamp":true,"interpolate":"rgb"},
"legend":{"type":"gradient","title":null,"orient":"none","legendX":797,"legendY":0,"direction":"vertical","gradientLength":458,"gradientThickness":34,"gradientStrokeColor":"#262626","gradientStrokeWidth":1,"values":[0,1,2,3,4,5],"format":"d","labelFont":"Liberation Sans","labelFontSize":40,"labelColor":"#262626","labelOffset":11,"labelOverlap":false,"labelBaseline":"middle"}}}},
{"data":{"name":"outside"},"mark":{"type":"area","color":"white","orient":"vertical"},"encoding":{"x":{"field":"x","type":"quantitative"},"y":{"field":"y","type":"quantitative"},"y2":{"field":"y2"}}},
{"data":{"name":"gap"},"mark":{"type":"area","color":"white","orient":"vertical"},"encoding":{"x":{"field":"x","type":"quantitative"},"y":{"field":"y","type":"quantitative"},"y2":{"field":"y2"}}},
{"data":{"name":"solid"},"mark":{"type":"area","color":"#800000","orient":"vertical"},"encoding":{"x":{"field":"x","type":"quantitative"},"y":{"field":"y","type":"quantitative"},"y2":{"field":"y2"}}},
{"data":{"name":"grid"},"mark":{"type":"rule","color":"#666666","strokeWidth":1,"strokeDash":[10,6]},"encoding":{"x":{"field":"x","type":"quantitative"},"x2":{"field":"x2"},"y":{"field":"y","type":"quantitative"},"y2":{"field":"y2"}}},
{"data":{"name":"barticks"},"mark":{"type":"rule","color":"#262626","strokeWidth":1,"clip":false},"encoding":{"x":{"field":"x","type":"quantitative"},"x2":{"field":"x2"},"y":{"field":"y","type":"quantitative"}}}
]}
